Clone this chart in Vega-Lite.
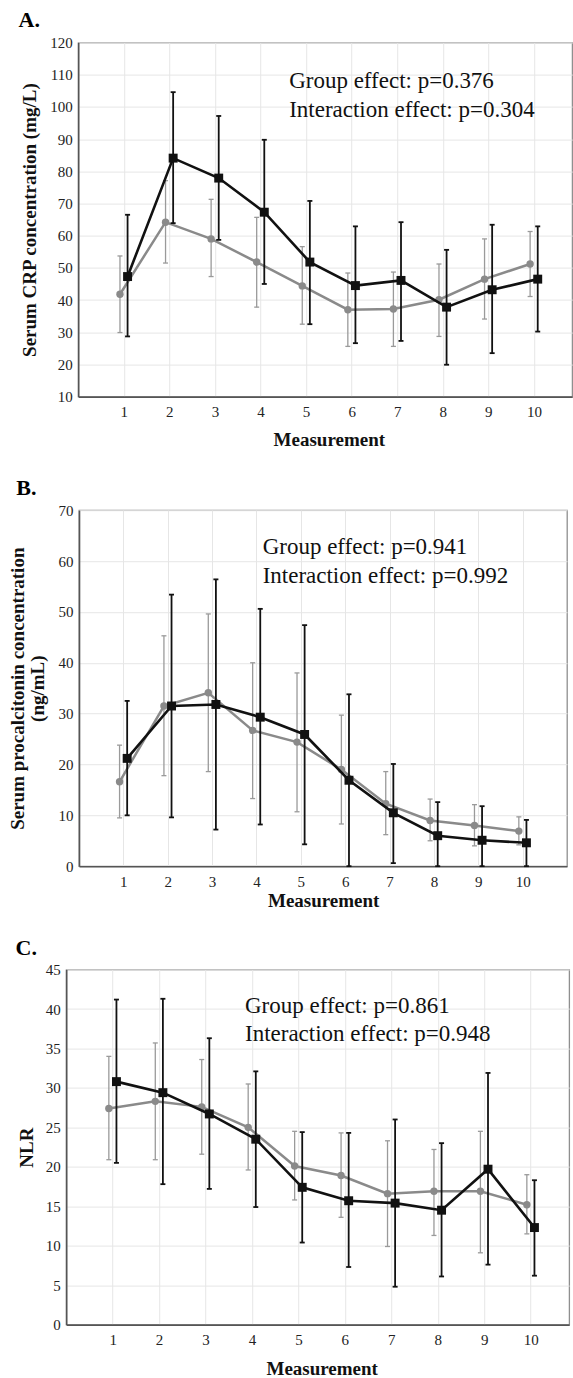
{
  "$schema": "https://vega.github.io/schema/vega-lite/v6.json",
  "background": "white",
  "padding": {"left": 0, "top": 7.6, "right": 0, "bottom": 0},
  "spacing": 24.6,
  "config": {
    "font": "Liberation Serif",
    "view": {"stroke": "#8f8f8f", "strokeWidth": 1.3},
    "axis": {
      "labelFont": "Liberation Serif", "labelFontSize": 15, "labelColor": "#222", "labelOverlap": false,
      "titleFont": "Liberation Serif", "titleFontSize": 19, "titleFontWeight": "bold", "titleColor": "#111",
      "domainColor": "#555", "domainWidth": 1.6, "gridColor": "#e6e6e6", "gridWidth": 1,
      "ticks": false, "grid": true
    },
    "axisX": {"labelPadding": 8},
    "axisY": {"labelPadding": 6}
  },
  "datasets": {
    "crp": [
      {"m": 1, "g": "grey", "mean": 41.8, "lo": 29.9, "hi": 53.7},
      {"m": 2, "g": "grey", "mean": 64.2, "lo": 51.5, "hi": 77.1},
      {"m": 3, "g": "grey", "mean": 59.0, "lo": 47.3, "hi": 71.3},
      {"m": 4, "g": "grey", "mean": 51.8, "lo": 37.8, "hi": 65.7},
      {"m": 5, "g": "grey", "mean": 44.4, "lo": 32.5, "hi": 56.6},
      {"m": 6, "g": "grey", "mean": 37.0, "lo": 25.6, "hi": 48.4},
      {"m": 7, "g": "grey", "mean": 37.2, "lo": 25.6, "hi": 48.7},
      {"m": 8, "g": "grey", "mean": 40.1, "lo": 28.7, "hi": 51.2},
      {"m": 9, "g": "grey", "mean": 46.5, "lo": 34.1, "hi": 59.0},
      {"m": 10, "g": "grey", "mean": 51.2, "lo": 41.1, "hi": 61.3},
      {"m": 1, "g": "black", "mean": 47.3, "lo": 28.7, "hi": 66.5},
      {"m": 2, "g": "black", "mean": 84.1, "lo": 63.9, "hi": 104.6},
      {"m": 3, "g": "black", "mean": 77.9, "lo": 58.7, "hi": 97.2},
      {"m": 4, "g": "black", "mean": 67.3, "lo": 45.0, "hi": 89.8},
      {"m": 5, "g": "black", "mean": 51.8, "lo": 32.5, "hi": 70.8},
      {"m": 6, "g": "black", "mean": 44.5, "lo": 26.6, "hi": 62.9},
      {"m": 7, "g": "black", "mean": 46.1, "lo": 27.3, "hi": 64.2},
      {"m": 8, "g": "black", "mean": 37.8, "lo": 19.9, "hi": 55.6},
      {"m": 9, "g": "black", "mean": 43.2, "lo": 23.5, "hi": 63.4},
      {"m": 10, "g": "black", "mean": 46.5, "lo": 30.2, "hi": 62.9}
    ],
    "pct": [
      {"m": 1, "g": "grey", "mean": 16.6, "lo": 9.5, "hi": 23.8},
      {"m": 2, "g": "grey", "mean": 31.5, "lo": 17.8, "hi": 45.3},
      {"m": 3, "g": "grey", "mean": 34.1, "lo": 18.6, "hi": 49.6},
      {"m": 4, "g": "grey", "mean": 26.7, "lo": 13.3, "hi": 40.0},
      {"m": 5, "g": "grey", "mean": 24.4, "lo": 10.7, "hi": 38.0},
      {"m": 6, "g": "grey", "mean": 19.0, "lo": 8.3, "hi": 29.7},
      {"m": 7, "g": "grey", "mean": 12.3, "lo": 6.2, "hi": 18.6},
      {"m": 8, "g": "grey", "mean": 9.0, "lo": 5.0, "hi": 13.2},
      {"m": 9, "g": "grey", "mean": 8.0, "lo": 4.0, "hi": 12.1},
      {"m": 10, "g": "grey", "mean": 6.9, "lo": 4.2, "hi": 9.7},
      {"m": 1, "g": "black", "mean": 21.2, "lo": 10.0, "hi": 32.5},
      {"m": 2, "g": "black", "mean": 31.5, "lo": 9.6, "hi": 53.4},
      {"m": 3, "g": "black", "mean": 31.8, "lo": 7.2, "hi": 56.4},
      {"m": 4, "g": "black", "mean": 29.3, "lo": 8.2, "hi": 50.6},
      {"m": 5, "g": "black", "mean": 25.9, "lo": 4.3, "hi": 47.4},
      {"m": 6, "g": "black", "mean": 16.9, "lo": 0.0, "hi": 33.8},
      {"m": 7, "g": "black", "mean": 10.5, "lo": 0.6, "hi": 20.1},
      {"m": 8, "g": "black", "mean": 6.0, "lo": 0.0, "hi": 12.6},
      {"m": 9, "g": "black", "mean": 5.1, "lo": 0.0, "hi": 11.8},
      {"m": 10, "g": "black", "mean": 4.6, "lo": 0.0, "hi": 9.1}
    ],
    "nlr": [
      {"m": 1, "g": "grey", "mean": 27.4, "lo": 20.9, "hi": 34.0},
      {"m": 2, "g": "grey", "mean": 28.3, "lo": 20.9, "hi": 35.7},
      {"m": 3, "g": "grey", "mean": 27.6, "lo": 21.6, "hi": 33.6},
      {"m": 4, "g": "grey", "mean": 25.0, "lo": 19.6, "hi": 30.5},
      {"m": 5, "g": "grey", "mean": 20.1, "lo": 15.8, "hi": 24.5},
      {"m": 6, "g": "grey", "mean": 18.9, "lo": 13.6, "hi": 24.3},
      {"m": 7, "g": "grey", "mean": 16.6, "lo": 9.9, "hi": 23.3},
      {"m": 8, "g": "grey", "mean": 16.9, "lo": 11.3, "hi": 22.2},
      {"m": 9, "g": "grey", "mean": 16.9, "lo": 9.1, "hi": 24.5},
      {"m": 10, "g": "grey", "mean": 15.2, "lo": 11.5, "hi": 19.0},
      {"m": 1, "g": "black", "mean": 30.8, "lo": 20.5, "hi": 41.2},
      {"m": 2, "g": "black", "mean": 29.4, "lo": 17.8, "hi": 41.3},
      {"m": 3, "g": "black", "mean": 26.7, "lo": 17.2, "hi": 36.3},
      {"m": 4, "g": "black", "mean": 23.5, "lo": 14.9, "hi": 32.1},
      {"m": 5, "g": "black", "mean": 17.4, "lo": 10.4, "hi": 24.4},
      {"m": 6, "g": "black", "mean": 15.7, "lo": 7.3, "hi": 24.3},
      {"m": 7, "g": "black", "mean": 15.4, "lo": 4.8, "hi": 26.0},
      {"m": 8, "g": "black", "mean": 14.5, "lo": 6.1, "hi": 23.0},
      {"m": 9, "g": "black", "mean": 19.7, "lo": 7.6, "hi": 31.9},
      {"m": 10, "g": "black", "mean": 12.3, "lo": 6.2, "hi": 18.3}
    ]
  },
  "vconcat": [
    {
      "spacing": 16.2,
      "hconcat": [
        {"width": 1, "height": 1, "view": {"stroke": null}, "data": {"values": [{}]}, "mark": {"type": "rect", "opacity": 0}},
        {
          "width": 494, "height": 354,
          "title": {"text": "A.", "anchor": "start", "frame": "group", "dx": -59.6, "offset": -13.2, "baseline": "alphabetic", "font": "Liberation Serif", "fontSize": 22, "fontWeight": "bold", "color": "#000"},
          "data": {"name": "crp"},
          "layer": [
            {
              "transform": [{"filter": "datum.g === 'grey'"}],
              "encoding": {"x": {"field": "m", "type": "quantitative", "scale": {"domain": [0, 10.84], "nice": false, "zero": false},
                  "axis": {"values": [1,2,3,4,5,6,7,8,9,10], "format": "d", "tickCount": 50, "title": "Measurement", "titleX": 250.6, "titleY": 43.3, "titleBaseline": "middle"}}},
              "layer": [
                {"mark": {"type": "rule", "color": "#9a9a9a", "strokeWidth": 1.3, "xOffset": -3.8},
                 "encoding": {"y": {"field": "lo", "type": "quantitative", "scale": {"domain": [10, 120], "nice": false, "zero": false},
                   "axis": {"values": [10,20,30,40,50,60,70,80,90,100,110,120], "format": "d", "tickCount": 50, "title": "Serum CRP concentration (mg/L)", "titleX": -48.7, "titleBaseline": "middle"}},
                   "y2": {"field": "hi"}}},
                {"mark": {"type": "tick", "orient": "horizontal", "size": 5, "thickness": 1.3, "color": "#9a9a9a", "opacity": 1, "xOffset": -3.8},
                 "encoding": {"y": {"field": "lo", "type": "quantitative"}}},
                {"mark": {"type": "tick", "orient": "horizontal", "size": 5, "thickness": 1.3, "color": "#9a9a9a", "opacity": 1, "xOffset": -3.8},
                 "encoding": {"y": {"field": "hi", "type": "quantitative"}}},
                {"mark": {"type": "line", "color": "#8a8a8a", "strokeWidth": 2.5, "xOffset": -3.8},
                 "encoding": {"y": {"field": "mean", "type": "quantitative"}}},
                {"mark": {"type": "point", "shape": "circle", "filled": true, "size": 55, "color": "#8a8a8a", "opacity": 1, "xOffset": -3.8},
                 "encoding": {"y": {"field": "mean", "type": "quantitative"}}}
              ]
            },
            {
              "transform": [{"filter": "datum.g === 'black'"}],
              "encoding": {"x": {"field": "m", "type": "quantitative", "scale": {"domain": [0, 10.84], "nice": false, "zero": false},
                  "axis": {"values": [1,2,3,4,5,6,7,8,9,10], "format": "d", "tickCount": 50, "title": "Measurement", "titleX": 250.6, "titleY": 43.3, "titleBaseline": "middle"}}},
              "layer": [
                {"mark": {"type": "rule", "color": "#111", "strokeWidth": 1.8, "xOffset": 3.8},
                 "encoding": {"y": {"field": "lo", "type": "quantitative"}, "y2": {"field": "hi"}}},
                {"mark": {"type": "tick", "orient": "horizontal", "size": 5, "thickness": 1.8, "color": "#111", "opacity": 1, "xOffset": 3.8},
                 "encoding": {"y": {"field": "lo", "type": "quantitative"}}},
                {"mark": {"type": "tick", "orient": "horizontal", "size": 5, "thickness": 1.8, "color": "#111", "opacity": 1, "xOffset": 3.8},
                 "encoding": {"y": {"field": "hi", "type": "quantitative"}}},
                {"mark": {"type": "line", "color": "#111", "strokeWidth": 2.6, "xOffset": 3.8},
                 "encoding": {"y": {"field": "mean", "type": "quantitative"}}},
                {"mark": {"type": "point", "shape": "square", "filled": true, "size": 80, "color": "#111", "opacity": 1, "xOffset": 3.8},
                 "encoding": {"y": {"field": "mean", "type": "quantitative"}}}
              ]
            },
            {
              "data": {"values": [{"t": "Group effect: p=0.376"}]},
              "mark": {"type": "text", "align": "left", "baseline": "alphabetic", "font": "Liberation Serif", "fontSize": 23, "color": "#111"},
              "encoding": {"text": {"field": "t", "type": "nominal"}, "x": {"datum": 4.63}, "y": {"datum": 105.8}}
            },
            {
              "data": {"values": [{"t": "Interaction effect: p=0.304"}]},
              "mark": {"type": "text", "align": "left", "baseline": "alphabetic", "font": "Liberation Serif", "fontSize": 23, "color": "#111"},
              "encoding": {"text": {"field": "t", "type": "nominal"}, "x": {"datum": 4.63}, "y": {"datum": 97.0}}
            }
          ]
        }
      ]
    },
    {
      "spacing": 24.4,
      "vconcat": [
        {
          "spacing": 6,
          "hconcat": [
            {"width": 1, "height": 1, "view": {"stroke": null}, "data": {"values": [{}]}, "mark": {"type": "rect", "opacity": 0}},
            {
              "width": 488, "height": 356,
              "title": {"text": "B.", "anchor": "start", "frame": "group", "dx": -62.7, "offset": -13.4, "baseline": "alphabetic", "font": "Liberation Serif", "fontSize": 22, "fontWeight": "bold", "color": "#000"},
              "data": {"name": "pct"},
              "layer": [
                {
                  "transform": [{"filter": "datum.g === 'grey'"}],
                  "encoding": {"x": {"field": "m", "type": "quantitative", "scale": {"domain": [0, 11], "nice": false, "zero": false},
                      "axis": {"values": [1,2,3,4,5,6,7,8,9,10], "format": "d", "tickCount": 50, "title": "Measurement", "titleX": 244.2, "titleY": 34, "titleBaseline": "middle"}}},
                  "layer": [
                    {"mark": {"type": "rule", "color": "#9a9a9a", "strokeWidth": 1.3, "xOffset": -3.8},
                     "encoding": {"y": {"field": "lo", "type": "quantitative", "scale": {"domain": [0, 70], "nice": false, "zero": false},
                       "axis": {"values": [0,10,20,30,40,50,60,70], "format": "d", "tickCount": 50, "title": ["Serum procalcitonin concentration", "(ng/mL)"], "titleLineHeight": 20, "titleX": -61.8, "titleBaseline": "middle"}},
                       "y2": {"field": "hi"}}},
                    {"mark": {"type": "tick", "orient": "horizontal", "size": 5, "thickness": 1.3, "color": "#9a9a9a", "opacity": 1, "xOffset": -3.8},
                     "encoding": {"y": {"field": "lo", "type": "quantitative"}}},
                    {"mark": {"type": "tick", "orient": "horizontal", "size": 5, "thickness": 1.3, "color": "#9a9a9a", "opacity": 1, "xOffset": -3.8},
                     "encoding": {"y": {"field": "hi", "type": "quantitative"}}},
                    {"mark": {"type": "line", "color": "#8a8a8a", "strokeWidth": 2.5, "xOffset": -3.8},
                     "encoding": {"y": {"field": "mean", "type": "quantitative"}}},
                    {"mark": {"type": "point", "shape": "circle", "filled": true, "size": 55, "color": "#8a8a8a", "opacity": 1, "xOffset": -3.8},
                     "encoding": {"y": {"field": "mean", "type": "quantitative"}}}
                  ]
                },
                {
                  "transform": [{"filter": "datum.g === 'black'"}],
                  "encoding": {"x": {"field": "m", "type": "quantitative", "scale": {"domain": [0, 11], "nice": false, "zero": false},
                      "axis": {"values": [1,2,3,4,5,6,7,8,9,10], "format": "d", "tickCount": 50, "title": "Measurement", "titleX": 244.2, "titleY": 34, "titleBaseline": "middle"}}},
                  "layer": [
                    {"mark": {"type": "rule", "color": "#111", "strokeWidth": 1.8, "xOffset": 3.8},
                     "encoding": {"y": {"field": "lo", "type": "quantitative"}, "y2": {"field": "hi"}}},
                    {"mark": {"type": "tick", "orient": "horizontal", "size": 5, "thickness": 1.8, "color": "#111", "opacity": 1, "xOffset": 3.8},
                     "encoding": {"y": {"field": "lo", "type": "quantitative"}}},
                    {"mark": {"type": "tick", "orient": "horizontal", "size": 5, "thickness": 1.8, "color": "#111", "opacity": 1, "xOffset": 3.8},
                     "encoding": {"y": {"field": "hi", "type": "quantitative"}}},
                    {"mark": {"type": "line", "color": "#111", "strokeWidth": 2.6, "xOffset": 3.8},
                     "encoding": {"y": {"field": "mean", "type": "quantitative"}}},
                    {"mark": {"type": "point", "shape": "square", "filled": true, "size": 80, "color": "#111", "opacity": 1, "xOffset": 3.8},
                     "encoding": {"y": {"field": "mean", "type": "quantitative"}}}
                  ]
                },
                {
                  "data": {"values": [{"t": "Group effect: p=0.941"}]},
                  "mark": {"type": "text", "align": "left", "baseline": "alphabetic", "font": "Liberation Serif", "fontSize": 23, "color": "#111"},
                  "encoding": {"text": {"field": "t", "type": "nominal"}, "x": {"datum": 4.14}, "y": {"datum": 61.3}}
                },
                {
                  "data": {"values": [{"t": "Interaction effect: p=0.992"}]},
                  "mark": {"type": "text", "align": "left", "baseline": "alphabetic", "font": "Liberation Serif", "fontSize": 23, "color": "#111"},
                  "encoding": {"text": {"field": "t", "type": "nominal"}, "x": {"datum": 4.14}, "y": {"datum": 55.7}}
                }
              ]
            }
          ]
        },
        {
          "spacing": 13.2,
          "hconcat": [
            {"width": 1, "height": 1, "view": {"stroke": null}, "data": {"values": [{}]}, "mark": {"type": "rect", "opacity": 0}},
            {
              "width": 503, "height": 355,
              "title": {"text": "C.", "anchor": "start", "frame": "group", "dx": -50.7, "offset": -14, "baseline": "alphabetic", "font": "Liberation Serif", "fontSize": 22, "fontWeight": "bold", "color": "#000"},
              "data": {"name": "nlr"},
              "layer": [
                {
                  "transform": [{"filter": "datum.g === 'grey'"}],
                  "encoding": {"x": {"field": "m", "type": "quantitative", "scale": {"domain": [0, 10.83], "nice": false, "zero": false},
                      "axis": {"values": [1,2,3,4,5,6,7,8,9,10], "format": "d", "tickCount": 50, "title": "Measurement", "titleX": 255.5, "titleY": 43.5, "titleBaseline": "middle"}}},
                  "layer": [
                    {"mark": {"type": "rule", "color": "#9a9a9a", "strokeWidth": 1.3, "xOffset": -3.8},
                     "encoding": {"y": {"field": "lo", "type": "quantitative", "scale": {"domain": [0, 45], "nice": false, "zero": false},
                       "axis": {"values": [0,5,10,15,20,25,30,35,40,45], "format": "d", "tickCount": 50, "title": "NLR", "titleX": -39.8, "titleBaseline": "middle"}},
                       "y2": {"field": "hi"}}},
                    {"mark": {"type": "tick", "orient": "horizontal", "size": 5, "thickness": 1.3, "color": "#9a9a9a", "opacity": 1, "xOffset": -3.8},
                     "encoding": {"y": {"field": "lo", "type": "quantitative"}}},
                    {"mark": {"type": "tick", "orient": "horizontal", "size": 5, "thickness": 1.3, "color": "#9a9a9a", "opacity": 1, "xOffset": -3.8},
                     "encoding": {"y": {"field": "hi", "type": "quantitative"}}},
                    {"mark": {"type": "line", "color": "#8a8a8a", "strokeWidth": 2.5, "xOffset": -3.8},
                     "encoding": {"y": {"field": "mean", "type": "quantitative"}}},
                    {"mark": {"type": "point", "shape": "circle", "filled": true, "size": 55, "color": "#8a8a8a", "opacity": 1, "xOffset": -3.8},
                     "encoding": {"y": {"field": "mean", "type": "quantitative"}}}
                  ]
                },
                {
                  "transform": [{"filter": "datum.g === 'black'"}],
                  "encoding": {"x": {"field": "m", "type": "quantitative", "scale": {"domain": [0, 10.83], "nice": false, "zero": false},
                      "axis": {"values": [1,2,3,4,5,6,7,8,9,10], "format": "d", "tickCount": 50, "title": "Measurement", "titleX": 255.5, "titleY": 43.5, "titleBaseline": "middle"}}},
                  "layer": [
                    {"mark": {"type": "rule", "color": "#111", "strokeWidth": 1.8, "xOffset": 3.8},
                     "encoding": {"y": {"field": "lo", "type": "quantitative"}, "y2": {"field": "hi"}}},
                    {"mark": {"type": "tick", "orient": "horizontal", "size": 5, "thickness": 1.8, "color": "#111", "opacity": 1, "xOffset": 3.8},
                     "encoding": {"y": {"field": "lo", "type": "quantitative"}}},
                    {"mark": {"type": "tick", "orient": "horizontal", "size": 5, "thickness": 1.8, "color": "#111", "opacity": 1, "xOffset": 3.8},
                     "encoding": {"y": {"field": "hi", "type": "quantitative"}}},
                    {"mark": {"type": "line", "color": "#111", "strokeWidth": 2.6, "xOffset": 3.8},
                     "encoding": {"y": {"field": "mean", "type": "quantitative"}}},
                    {"mark": {"type": "point", "shape": "square", "filled": true, "size": 80, "color": "#111", "opacity": 1, "xOffset": 3.8},
                     "encoding": {"y": {"field": "mean", "type": "quantitative"}}}
                  ]
                },
                {
                  "data": {"values": [{"t": "Group effect: p=0.861"}]},
                  "mark": {"type": "text", "align": "left", "baseline": "alphabetic", "font": "Liberation Serif", "fontSize": 23, "color": "#111"},
                  "encoding": {"text": {"field": "t", "type": "nominal"}, "x": {"datum": 3.85}, "y": {"datum": 39.5}}
                },
                {
                  "data": {"values": [{"t": "Interaction effect: p=0.948"}]},
                  "mark": {"type": "text", "align": "left", "baseline": "alphabetic", "font": "Liberation Serif", "fontSize": 23, "color": "#111"},
                  "encoding": {"text": {"field": "t", "type": "nominal"}, "x": {"datum": 3.85}, "y": {"datum": 35.9}}
                }
              ]
            }
          ]
        }
      ]
    }
  ]
}
